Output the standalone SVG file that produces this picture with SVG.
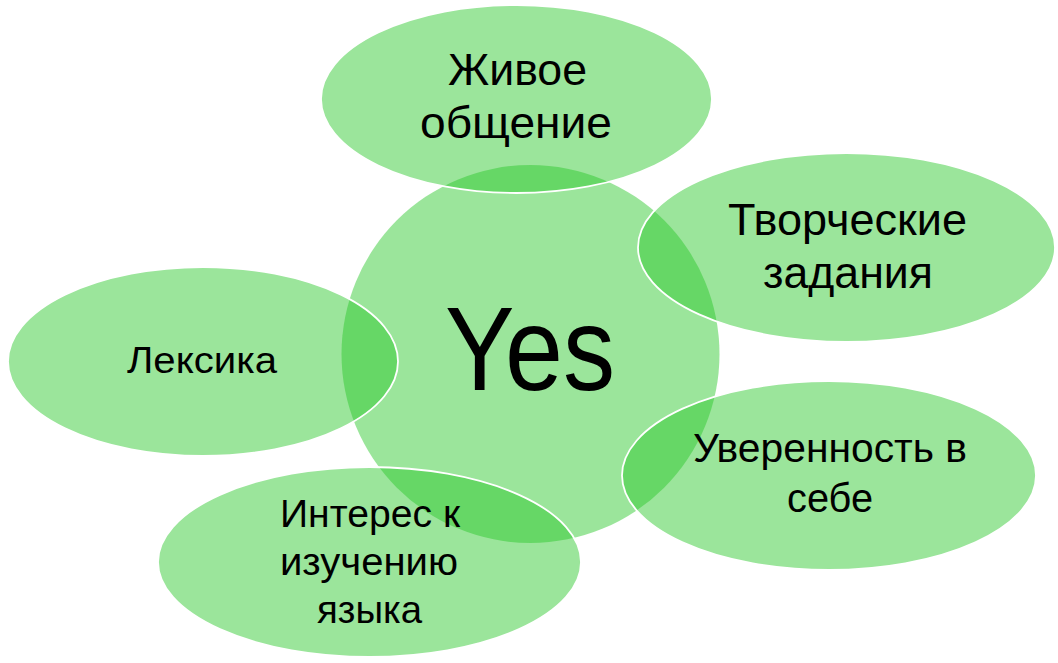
<svg xmlns="http://www.w3.org/2000/svg" width="1058" height="663" viewBox="0 0 1058 663">
<style>
.c{fill:rgb(42,200,42);fill-opacity:0.47;stroke:none}
.s{fill:rgb(42,200,42);fill-opacity:0.47;stroke:#ffffff;stroke-width:1.8}
text{font-family:"Liberation Sans","Arial",sans-serif;fill:#000000}
</style>
<rect width="1058" height="663" fill="#ffffff"/>
<g id="connectors"></g>
<g id="center">
<circle class="c" cx="530.5" cy="354" r="189"/>
<text x="445" y="390" font-size="119" textLength="170" lengthAdjust="spacingAndGlyphs">Yes</text>
</g>
<g id="node-zhivoe">
<ellipse class="s" cx="516.5" cy="99" rx="195.5" ry="94"/>
<text x="448" y="85" font-size="45" textLength="139" lengthAdjust="spacingAndGlyphs">Живое</text>
<text x="420" y="138" font-size="45" textLength="192" lengthAdjust="spacingAndGlyphs">общение</text>
</g>
<g id="node-tvorcheskie">
<ellipse class="s" cx="846.5" cy="247.5" rx="208.5" ry="94.5"/>
<text x="728" y="235" font-size="45" textLength="239" lengthAdjust="spacingAndGlyphs">Творческие</text>
<text x="763" y="288" font-size="45" textLength="170" lengthAdjust="spacingAndGlyphs">задания</text>
</g>
<g id="node-leksika">
<ellipse class="s" cx="203" cy="361.5" rx="195" ry="94.5"/>
<text x="127" y="373" font-size="36" textLength="150" lengthAdjust="spacingAndGlyphs">Лексика</text>
</g>
<g id="node-uverennost">
<ellipse class="s" cx="829" cy="475.5" rx="207" ry="94.5"/>
<text x="693" y="462" font-size="41" textLength="274" lengthAdjust="spacingAndGlyphs">Уверенность в</text>
<text x="787" y="512" font-size="41" textLength="86" lengthAdjust="spacingAndGlyphs">себе</text>
</g>
<g id="node-interes">
<ellipse class="s" cx="369.5" cy="562" rx="211.5" ry="95"/>
<text x="280" y="527" font-size="39" textLength="180" lengthAdjust="spacingAndGlyphs">Интерес к</text>
<text x="280" y="575" font-size="39" textLength="178" lengthAdjust="spacingAndGlyphs">изучению</text>
<text x="317" y="623" font-size="39" textLength="105" lengthAdjust="spacingAndGlyphs">языка</text>
</g>
</svg>
